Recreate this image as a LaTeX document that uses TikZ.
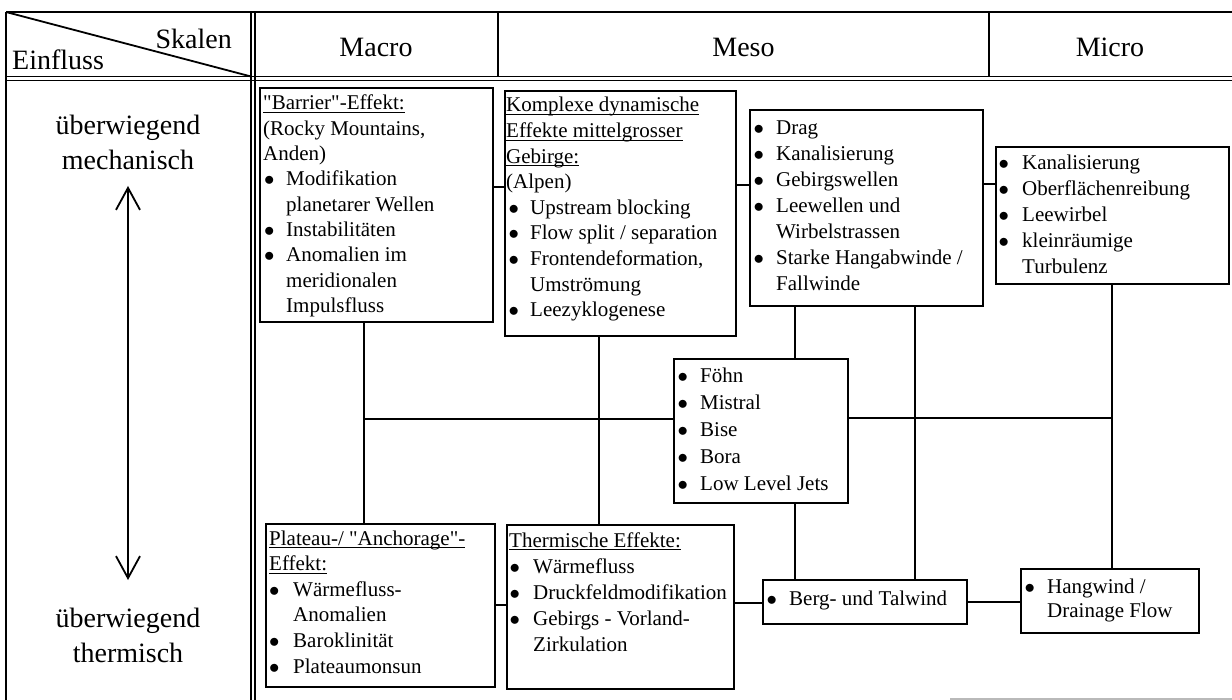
\documentclass[tikz,border=0pt]{standalone}
\usepackage{fontspec}
\setmainfont{Liberation Serif}[Ligatures=TeXOff]
\usetikzlibrary{arrows.meta}

% underline at a fixed depth, as in a word processor
\newcommand{\ulx}[1]{\setbox0=\hbox{#1}\rlap{\rule[-3.2pt]{\wd0}{1.2pt}}\box0}
% bullet lists set as two-column tables
\newlength{\bulw}\newlength{\bulx}
\newcommand{\bl}{\makebox[\bulw][l]{\hspace{\bulx}$\bullet$}}
\newcommand{\hd}[1]{\multicolumn{2}{@{}l@{}}{#1}}
\newenvironment{blist}[2]{\setlength{\bulw}{#1}\setlength{\bulx}{#2}\begin{tabular}[t]{@{}l@{}l@{}}}{\end{tabular}}

\tikzset{
  tl/.style={line width=1.4pt},
  bx/.style={draw, line width=1.7pt, inner sep=0pt, anchor=north west},
  cn/.style={line width=2pt},
  tx/.style={anchor=base west, inner sep=0pt},
  big/.style={inner sep=0pt, font=\fontsize{28}{35}\selectfont},
}

\begin{document}
\begin{tikzpicture}[x=1pt, y=-1pt]
\useasboundingbox (0,0) rectangle (1232,700);
\fill[white] (0,0) rectangle (1232,700);

% ---- table frame ----
\draw[tl] (6,12) -- (1232,12);
\draw[tl] (6,76.5) -- (1232,76.5);
\draw[tl] (6,80.5) -- (1232,80.5);
\draw[tl] (6,12) -- (6,700);
\draw[tl] (251,12) -- (251,700);
\draw[tl] (255,12) -- (255,700);
\draw[tl] (498,12) -- (498,76.5);
\draw[tl] (989,12) -- (989,76.5);
\draw[line width=1.8pt] (6,12) -- (251,76.5);
\draw[gray!55, line width=1.5pt] (950,699) -- (1232,699);

% ---- header ----
\node[big, anchor=base east] (skalen) at (232,49) {Skalen};
\node[big, anchor=base west] (einfluss) at (12,70) {Einfluss};
\node[big, anchor=base] (macro) at (376,57) {Macro};
\node[big, anchor=base] (meso) at (743.5,57) {Meso};
\node[big, anchor=base] (micro-h) at (1110,57) {Micro};

% ---- left column ----
\node[big, anchor=base] (mech) at (128,135)
  {\begin{tabular}[t]{@{}c@{}}überwiegend\\mechanisch\end{tabular}};
\node[big, anchor=base] (therm) at (128,627)
  {\begin{tabular}[t]{@{}c@{}}überwiegend\\thermisch\end{tabular}};
\coordinate (atop) at (128,186);
\coordinate (abot) at (128,580);
\draw[line width=1.8pt, {Straight Barb[length=22pt,width=24pt,line width=1.8pt]}-{Straight Barb[length=22pt,width=24pt,line width=1.8pt]}] (atop) -- (abot);

% ---- boxes ----
\node[bx, minimum width=233pt, minimum height=234pt] (barrier) at (259,87) {};
\node[bx, minimum width=231pt, minimum height=245pt] (komplexe) at (504,90) {};
\node[bx, minimum width=233pt, minimum height=196pt] (drag) at (749,109) {};
\node[bx, minimum width=233pt, minimum height=137pt] (micro) at (995,146) {};
\node[bx, minimum width=174pt, minimum height=144pt] (foehn) at (673,358) {};
\node[bx, minimum width=229pt, minimum height=163pt] (plateau) at (265,523) {};
\node[bx, minimum width=227pt, minimum height=164pt] (thermo) at (506,524) {};
\node[bx, minimum width=204pt, minimum height=44pt] (berg) at (762,579) {};
\node[bx, minimum width=178pt, minimum height=64pt] (hang) at (1020,568) {};

% ---- box texts ----
\node[tx, font=\fontsize{21}{25.3}\selectfont] (barrier-t) at (263,110) {%
\begin{blist}{23pt}{1pt}
\hd{\ulx{"Barrier"-Effekt:}}\\
\hd{(Rocky Mountains,}\\
\hd{Anden)}\\
\bl & Modifikation\\
 & planetarer Wellen\\
\bl & Instabilitäten\\
\bl & Anomalien im\\
 & meridionalen\\
 & Impulsfluss
\end{blist}};

\node[tx, font=\fontsize{21}{25.6}\selectfont] (komplexe-t) at (506,112) {%
\begin{blist}{24pt}{2.5pt}
\hd{\ulx{Komplexe dynamische}}\\
\hd{\ulx{Effekte mittelgrosser}}\\
\hd{\ulx{Gebirge:}}\\
\hd{(Alpen)}\\
\bl & Upstream blocking\\
\bl & Flow split / separation\\
\bl & Frontendeformation,\\
 & Umströmung\\
\bl & Leezyklogenese
\end{blist}};

\node[tx, font=\fontsize{21}{26}\selectfont] (drag-t) at (752,135) {%
\begin{blist}{24pt}{1.5pt}
\bl & Drag\\
\bl & Kanalisierung\\
\bl & Gebirgswellen\\
\bl & Leewellen und\\
 & Wirbelstrassen\\
\bl & Starke Hangabwinde /\\
 & Fallwinde
\end{blist}};

\node[tx, font=\fontsize{21}{25.8}\selectfont] (micro-t) at (997,170) {%
\begin{blist}{25pt}{1.5pt}
\bl & Kanalisierung\\
\bl & Oberflächenreibung\\
\bl & Leewirbel\\
\bl & kleinräumige\\
 & Turbulenz
\end{blist}};

\node[tx, font=\fontsize{21}{27}\selectfont] (foehn-t) at (676,383) {%
\begin{blist}{24pt}{1.5pt}
\bl & Föhn\\
\bl & Mistral\\
\bl & Bise\\
\bl & Bora\\
\bl & Low Level Jets
\end{blist}};

\node[tx, font=\fontsize{21}{25.6}\selectfont] (plateau-t) at (269,545) {%
\begin{blist}{24pt}{0pt}
\hd{\ulx{Plateau-/ "Anchorage"-}}\\
\hd{\ulx{Effekt:}}\\
\bl & Wärmefluss-\\
 & Anomalien\\
\bl & Baroklinität\\
\bl & Plateaumonsun
\end{blist}};

\node[tx, font=\fontsize{21}{26.2}\selectfont] (thermo-t) at (509,547) {%
\begin{blist}{24pt}{0.5pt}
\hd{\ulx{Thermische Effekte:}}\\
\bl & Wärmefluss\\
\bl & Druckfeldmodifikation\\
\bl & Gebirgs - Vorland-\\
 & Zirkulation
\end{blist}};

\node[tx, font=\fontsize{21}{25}\selectfont] (berg-t) at (765,605) {%
\begin{blist}{24pt}{1.5pt}
\bl & Berg- und Talwind
\end{blist}};

\node[tx, font=\fontsize{21}{24}\selectfont] (hang-t) at (1023,593) {%
\begin{blist}{24pt}{1.5pt}
\bl & Hangwind /\\
 & Drainage Flow
\end{blist}};

% ---- connectors ----
\coordinate (jl) at (364,419);
\coordinate (jm) at (599,419);
\coordinate (jr) at (1112,418);
\coordinate (d1) at (795,0);
\coordinate (d2) at (915,0);
\coordinate (r1) at (0,187);
\coordinate (r2) at (0,185);
\coordinate (r3) at (0,184);
\coordinate (r4) at (0,605);
\coordinate (r5) at (0,603);
\coordinate (r6) at (0,602);

\draw[cn] (barrier.east |- r1) -- (komplexe.west |- r1);
\draw[cn] (komplexe.east |- r2) -- (drag.west |- r2);
\draw[cn] (drag.east |- r3) -- (micro.west |- r3);
\draw[cn] (plateau.east |- r4) -- (thermo.west |- r4);
\draw[cn] (thermo.east |- r5) -- (berg.west |- r5);
\draw[cn] (berg.east |- r6) -- (hang.west |- r6);

\draw[cn] (barrier.south -| jl) -- (plateau.north -| jl);
\draw[cn] (komplexe.south -| jm) -- (thermo.north -| jm);
\draw[cn] (jl) -- (foehn.west |- jl);
\draw[cn] (foehn.east |- jr) -- (jr);
\draw[cn] (drag.south -| d1) -- (foehn.north -| d1);
\draw[cn] (foehn.south -| d1) -- (berg.north -| d1);
\draw[cn] (drag.south -| d2) -- (berg.north -| d2);
\draw[cn] (micro.south -| jr) -- (hang.north -| jr);
\end{tikzpicture}
\end{document}
